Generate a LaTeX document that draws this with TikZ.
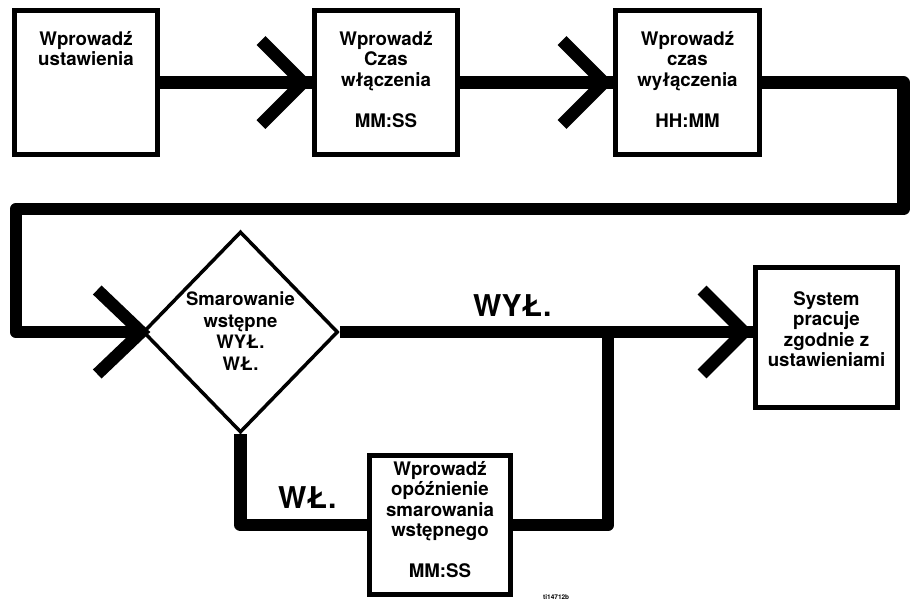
\documentclass[tikz,border=0pt]{standalone}
\usepackage{fontspec}
\setmainfont{TeX Gyre Heros}
\usetikzlibrary{shapes.geometric,calc}
\newcommand{\bxt}[4]{\parbox[c][#2][t]{#1}{\centering\fontsize{18.7}{20.5}\selectfont\bfseries\rule{0pt}{#3}#4}}
\tikzset{
  boxnode/.style={draw, line width=5pt, inner sep=0pt, fill=white},
  conn/.style={line width=12.5pt, line join=round, line cap=butt},
  chev/.style={line width=12.5pt, line cap=butt, line join=miter},
  dianode/.style={draw, shape=diamond, line width=3.5pt, inner sep=0pt, minimum width=195pt, minimum height=201pt},
  dtxt/.style={align=center, inner sep=0pt, font=\fontsize{18.5}{21.5}\selectfont\bfseries},
  biglabel/.style={inner sep=0pt, font=\fontsize{30}{36}\selectfont\bfseries},
  tinylabel/.style={inner sep=0pt, font=\fontsize{6.5}{8}\selectfont\bfseries}
}
\begin{document}
\begin{tikzpicture}[x=1pt,y=-1pt]
\useasboundingbox (0,0) rectangle (910,606);
% nodes
\node[boxnode] (b1) at (86,82.5) {\bxt{143pt}{144pt}{34.5pt}{Wprowadź\\ustawienia}};
\node[boxnode] (b2) at (386,82.5) {\bxt{143pt}{144pt}{34.5pt}{Wprowadź\\Czas\\włączenia\\[20.5pt]MM:SS}};
\node[boxnode] (b3) at (687.5,82.5) {\bxt{144pt}{144pt}{34.5pt}{Wprowadź\\czas\\wyłączenia\\[20.5pt]HH:MM}};
\node[dianode] (d) at (240.5,332) {};
\node[dtxt] (dt) at ($(d.center)+(0,-1)$) {Smarowanie\\wstępne\\WYŁ.\\WŁ.};
\node[boxnode] (sys) at (826.5,337.5) {\bxt{142pt}{140pt}{37.5pt}{System\\pracuje\\zgodnie z\\ustawieniami}};
\node[boxnode] (bb) at (440,525) {\bxt{141pt}{139pt}{19.5pt}{Wprowadź\\opóźnienie\\smarowania\\wstępnego\\[20.5pt]MM:SS}};
% coordinates
\coordinate (c1) at (903.5,82.5);
\coordinate (c2) at (903.5,209);
\coordinate (c3) at (16,209);
\coordinate (c4) at (16,332);
\coordinate (sin) at (d.east -| sys.west);
\coordinate (j) at (608,332);
% connectors
\draw[conn] (b1.east) -- (b2.west);
\draw[conn] (b2.east) -- (b3.west);
\draw[conn] (b3.east) -- (c1) -- (c2) -- (c3) -- (c4) -- (d.west);
\draw[conn] (d.east) -- (sin);
\draw[conn] (d.south) |- (bb.west);
\draw[conn] (bb.east) -| (j);
% chevrons
\draw[chev] ($(b2.west)+(-51,42)$) -- ($(b2.west)+(-9,0)$) -- ($(b2.west)+(-51,-42)$);
\draw[chev] ($(b3.west)+(-51,42)$) -- ($(b3.west)+(-9,0)$) -- ($(b3.west)+(-51,-42)$);
\draw[chev] ($(d.west)+(-44,42)$) -- (d.west) -- ($(d.west)+(-44,-42)$);
\draw[chev] ($(sin)+(-51,42)$) -- ($(sin)+(-9,0)$) -- ($(sin)+(-51,-42)$);
% labels
\node[biglabel, anchor=base west] (lwyl) at (473,316) {WYŁ.};
\node[biglabel, anchor=base west] (lwl) at (278,508) {WŁ.};
\node[tinylabel, anchor=base west] (ref) at (543,599) {ti14712b};
\end{tikzpicture}
\end{document}
